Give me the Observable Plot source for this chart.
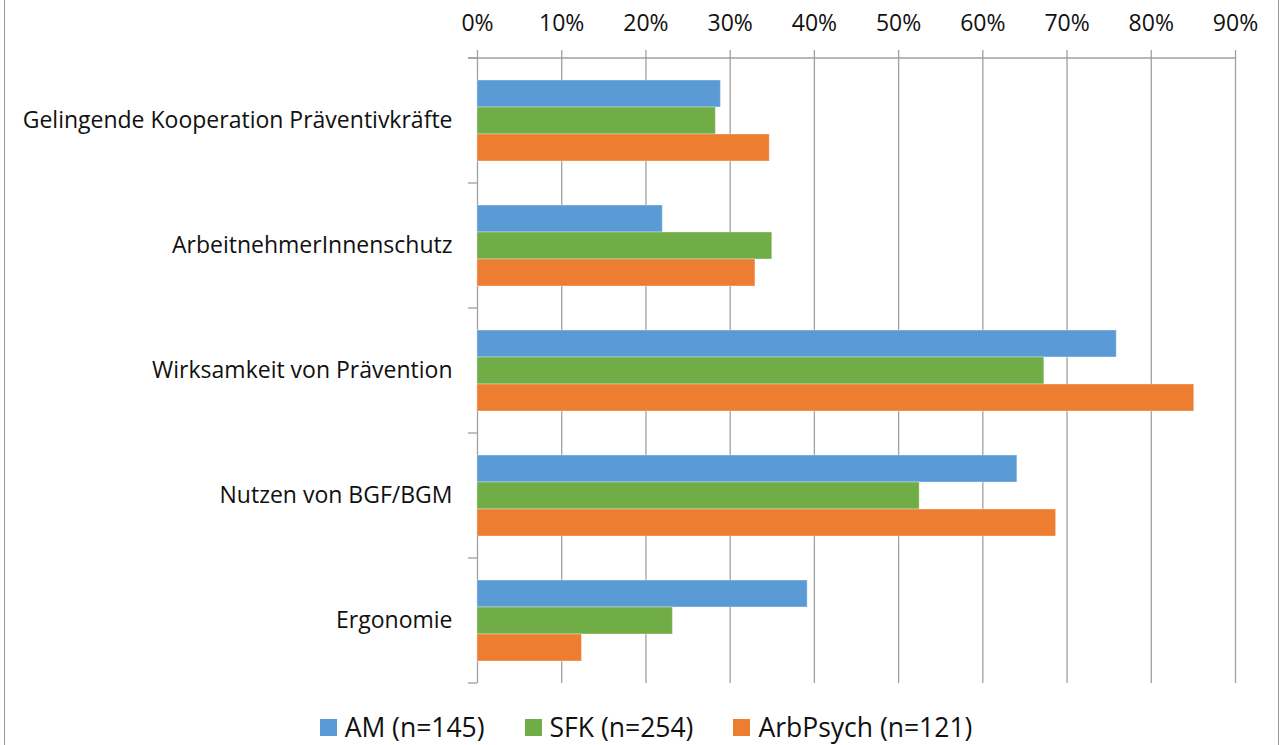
<!DOCTYPE html>
<html>
<head>
<meta charset="utf-8">
<script src="https://cdn.jsdelivr.net/npm/d3@7"></script>
<script src="https://cdn.jsdelivr.net/npm/@observablehq/plot@0.6"></script>
<style>
  html, body { margin: 0; padding: 0; background: #fff; }
  #wrap { position: relative; width: 1284px; height: 745px; overflow: hidden; font-family: "Open Sans", sans-serif; }
  #border { position: absolute; left: 4px; top: 0; width: 1275px; height: 745px; border-left: 1.5px solid #9a9a9a; border-right: 1.5px solid #9a9a9a; box-sizing: border-box; }
  #chart { position: absolute; left: 0; top: 0; }
  #legend { position: absolute; left: 0; top: 710px; width: 1284px; height: 34px; display: flex; justify-content: center; align-items: center; gap: 40px; font-size: 26.5px; color: #111; padding-left: 8px; box-sizing: border-box; }
  .item { display: flex; align-items: center; }
  .sw { width: 17px; height: 17px; margin-right: 8px; }
</style>
</head>
<body>
<div id="wrap">
  <div id="border"></div>
  <div id="chart"></div>
  <div id="legend"></div>
</div>
<script>
const categories = [
  "Gelingende Kooperation Präventivkräfte",
  "ArbeitnehmerInnenschutz",
  "Wirksamkeit von Prävention",
  "Nutzen von BGF/BGM",
  "Ergonomie"
];
const series = ["AM (n=145)", "SFK (n=254)", "ArbPsych (n=121)"];
const colors = ["#5b9bd5", "#70ad47", "#ed7d31"];
const amValues       = [0.289, 0.220, 0.759, 0.641, 0.392];
const sfkValues      = [0.283, 0.350, 0.673, 0.525, 0.232];
const arbPsychValues = [0.347, 0.330, 0.851, 0.687, 0.124];
const xTicks = [0, 0.1, 0.2, 0.3, 0.4, 0.5, 0.6, 0.7, 0.8, 0.9];

const valuesBySeries = [amValues, sfkValues, arbPsychValues];
const data = [];
categories.forEach((c, i) => {
  series.forEach((s, j) => data.push({cat: c, series: s, value: valuesBySeries[j][i]}));
});

const gridColor = "#a0a0a0";

const chart = Plot.plot({
  width: 1284,
  height: 700,
  marginLeft: 477,
  marginRight: 49,
  marginTop: 57,
  marginBottom: 17,
  style: {fontFamily: "'Open Sans', sans-serif", fontSize: "23px", color: "#111", background: "transparent"},
  x: {domain: [0, 0.9], axis: null},
  y: {domain: series, paddingInner: 0, paddingOuter: 0.76, axis: null},
  fy: {domain: categories, padding: 0, axis: null},
  color: {domain: series, range: colors},
  marks: [
    Plot.ruleX(xTicks, {stroke: gridColor, strokeWidth: 1.3}),
    Plot.barX(data, {fy: "cat", y: "series", x: "value", fill: "series", stroke: "#fff", strokeOpacity: 0.35, strokeWidth: 1}),
    Plot.axisX({anchor: "top", ticks: xTicks, tickFormat: d3.format(".0%"), tickSize: 9, tickPadding: 19, stroke: gridColor, strokeWidth: 1.3, fill: "#111", label: null}),
    Plot.axisFy({anchor: "left", tickSize: 0, tickPadding: 25, fill: "#111", label: null})
  ]
});
document.getElementById("chart").appendChild(chart);

// axis line at top and category boundary ticks, computed from the scales
const xs = chart.scale("x");
const fys = chart.scale("fy");
const x0 = xs.apply(0), x1 = xs.apply(0.9);
const g = d3.select(chart).append("g").attr("stroke", gridColor).attr("stroke-width", 1.3);
const bounds = categories.map(c => fys.apply(c));
bounds.push(fys.apply(categories[categories.length - 1]) + fys.bandwidth);
g.append("line").attr("x1", x0 - 9).attr("x2", x1).attr("y1", bounds[0]).attr("y2", bounds[0]);
bounds.forEach(b => g.append("line").attr("x1", x0 - 9).attr("x2", x0).attr("y1", b).attr("y2", b));

const legend = document.getElementById("legend");
series.forEach((s, i) => {
  const it = document.createElement("div");
  it.className = "item";
  it.innerHTML = `<div class="sw" style="background:${colors[i]}"></div><span>${s}</span>`;
  legend.appendChild(it);
});
</script>
</body>
</html>
